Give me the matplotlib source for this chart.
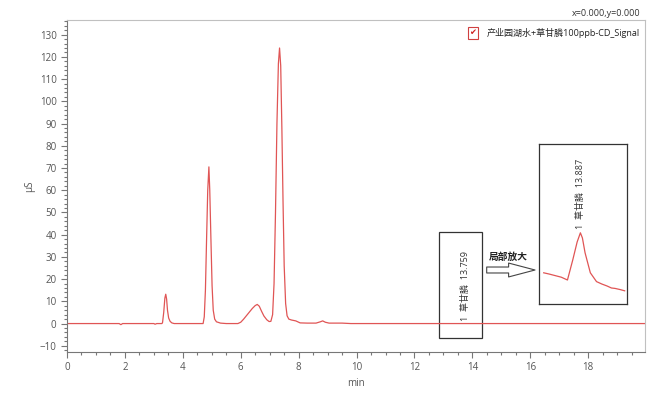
import numpy as np
import matplotlib
matplotlib.use("Agg")
import matplotlib.pyplot as plt
from matplotlib.ticker import MultipleLocator
from matplotlib.patches import Rectangle, FancyArrowPatch, ArrowStyle

plt.rcParams['font.family'] = ['Open Sans', 'Noto Sans CJK SC', 'DejaVu Sans']

# chromatogram trace (min, µS)
t = [0.00, 1.80, 1.86, 1.92, 3.00, 3.04, 3.10, 3.28,
     3.30, 3.34, 3.38, 3.41, 3.44, 3.47, 3.51, 3.56, 3.62, 3.70,
     4.70, 4.74, 4.78, 4.82, 4.86, 4.90, 4.93, 4.97, 5.01, 5.05, 5.10, 5.16, 5.30, 5.50,
     5.90, 6.00, 6.10, 6.20, 6.30, 6.40, 6.50, 6.57, 6.64, 6.72, 6.80, 6.90, 6.98,
     7.04, 7.10, 7.15, 7.20, 7.25, 7.30, 7.34, 7.38, 7.42, 7.46, 7.50, 7.55, 7.60, 7.66,
     7.75, 7.90, 8.05, 8.30, 8.60, 8.75, 8.83, 8.92, 9.05, 9.50, 9.80, 9.85, 19.96]
signal = [0.0, 0.0, -0.5, 0.0, 0.0, -0.3, 0.0, 0.0,
          0.5, 5.0, 11.5, 13.2, 11.0, 6.0, 2.5, 1.0, 0.3, 0.0,
          0.0, 3.0, 15.0, 38.0, 60.0, 70.5, 60.0, 38.0, 17.0, 6.0, 2.0, 0.8, 0.2, 0.0,
          0.0, 0.6, 2.0, 3.6, 5.2, 6.8, 8.1, 8.6, 7.8, 5.5, 3.4, 1.7, 0.9,
          1.0, 4.0, 18.0, 50.0, 90.0, 117.0, 124.0, 116.0, 88.0, 55.0, 26.0, 9.0, 3.5, 2.0,
          1.6, 1.2, 0.3, 0.2, 0.2, 0.8, 1.2, 0.6, 0.2, 0.2, 0.0, 0.0, 0.0]

# enlarged view around the glyphosate peak
t_zoom = [13.47, 13.53, 13.60, 13.67, 13.74, 13.80, 13.85, 13.887, 13.91, 13.94,
          14.00, 14.07, 14.13, 14.19, 14.24, 14.28, 14.34, 14.39]
signal_zoom = [-0.022, -0.025, -0.029, -0.033, -0.040, 0.010, 0.055, 0.078, 0.065, 0.028,
               -0.022, -0.044, -0.050, -0.055, -0.060, -0.061, -0.064, -0.067]

peak_rt = 13.759
peak_rt_zoom = 13.887
peak_name = "草甘膦"
series_name = "产业园湖水+草甘膦100ppb-CD_Signal"

line_color = "#e05555"
tick_color = "#555555"

fig = plt.figure(figsize=(6.62, 3.93), dpi=100)
ax = fig.add_axes([67 / 662, 41 / 393, 578 / 662, 332 / 393])
ax.plot(t, signal, color=line_color, lw=0.9)

ax.set_xlim(0, 19.96)
ax.set_ylim(-12.8, 136.6)
ax.xaxis.set_major_locator(MultipleLocator(2))
ax.xaxis.set_minor_locator(MultipleLocator(0.5))
ax.yaxis.set_major_locator(MultipleLocator(10))
ax.yaxis.set_minor_locator(MultipleLocator(2))
ax.tick_params(which='both', direction='out', colors='#777777', labelcolor=tick_color,
               labelsize=7, width=0.8)
ax.tick_params(which='major', length=4)
ax.tick_params(which='minor', length=2)
ax.set_xlabel("min", fontsize=7, color=tick_color, labelpad=3)
ax.set_ylabel("µS", fontsize=7, color=tick_color, labelpad=3)
for side in ['left', 'bottom']:
    ax.spines[side].set_color('#777777')
for side in ['top', 'right']:
    ax.spines[side].set_color('#c0c0c0')

# marked region around the small peak
ax.add_patch(Rectangle((12.85, -6.6), 1.47, 47.9, fill=False, ec='#333333', lw=0.9))
ax.text(peak_rt, 1.0, f"1  {peak_name}  {peak_rt:.3f}", rotation=90, ha='center',
        va='bottom', fontsize=6.5, color='#333333')

# hollow arrow pointing to the enlarged view
arrow = FancyArrowPatch((486.7 / 662, 123 / 393), (535 / 662, 123 / 393),
                        transform=fig.transFigure,
                        arrowstyle=ArrowStyle.Simple(head_length=19, head_width=10, tail_width=4.3),
                        mutation_scale=1, fc='white', ec='#444444', lw=0.8,
                        shrinkA=0, shrinkB=0)
fig.patches.append(arrow)
fig.text(508 / 662, 1 - 257 / 393, "局部放大", ha='center', va='center', fontsize=7,
         fontweight='bold', color='#222222')

# enlarged view
axz = fig.add_axes([539.3 / 662, 89 / 393, 88 / 662, 160 / 393])
axz.plot(t_zoom, signal_zoom, color=line_color, lw=0.9)
axz.set_xlim(13.42, 14.42)
axz.set_ylim(-0.10, 0.30)
axz.set_xticks([])
axz.set_yticks([])
for s in axz.spines.values():
    s.set_color('#333333')
    s.set_linewidth(0.9)
axz.text(peak_rt_zoom, 0.088, f"1  {peak_name}  {peak_rt_zoom:.3f}", rotation=90,
         ha='center', va='bottom', fontsize=6.5, color='#333333')

# legend entry with checkbox
fig.text(473 / 662, 1 - 33 / 393, "✔", ha='center', va='center', fontsize=6,
         color='#d02020', family='DejaVu Sans',
         bbox=dict(boxstyle='square,pad=0.15', fc='white', ec='#d04040', lw=0.8))
fig.text(487 / 662, 1 - 33 / 393, series_name, ha='left', va='center', fontsize=6.5,
         color='#222222')
fig.text(640 / 662, 1 - 13 / 393, "x=0.000,y=0.000", ha='right', va='center', fontsize=6.5,
         color='#333333')

fig.savefig("out.png", dpi=100)
